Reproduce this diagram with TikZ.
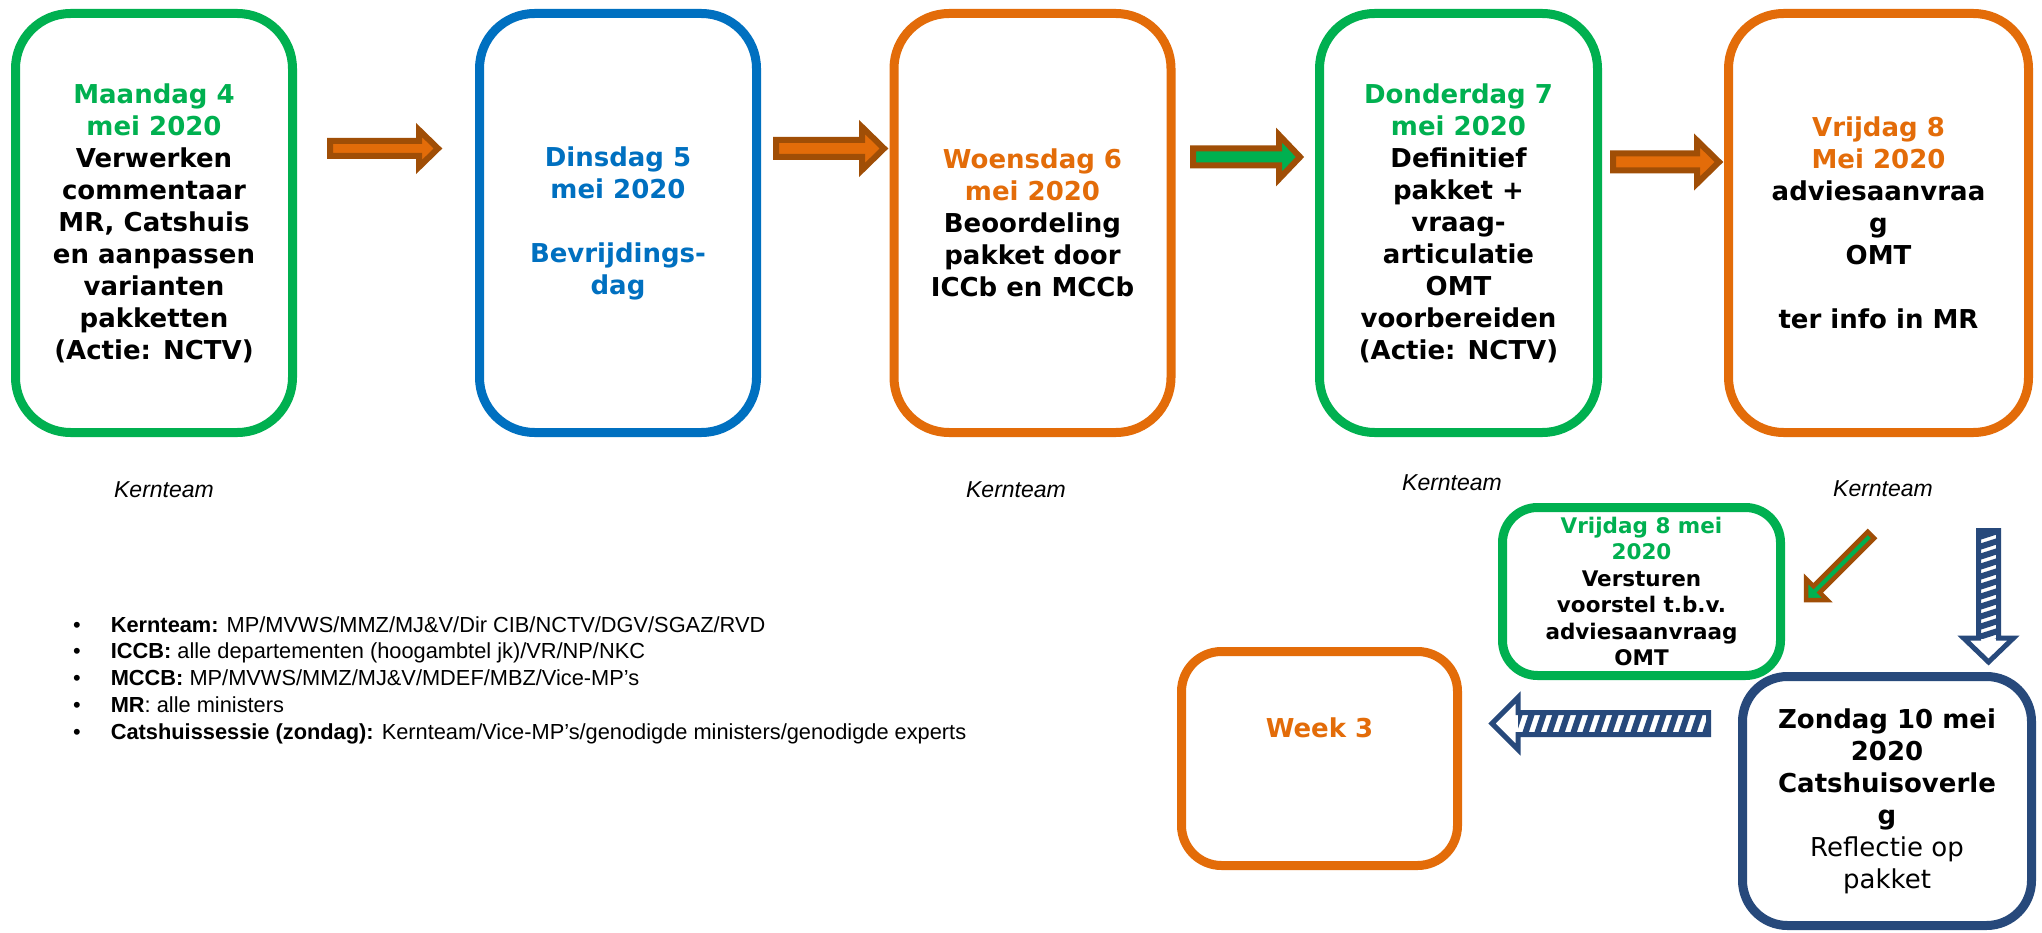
\documentclass[tikz,border=0pt]{standalone}
\usepackage{fontspec}
\setmainfont{DejaVu Sans}
\newfontfamily\arialf{Liberation Sans}
\usetikzlibrary{calc}
\definecolor{grn}{HTML}{00B050}
\definecolor{blu}{HTML}{0070C0}
\definecolor{org}{HTML}{E36C09}
\definecolor{brn}{HTML}{A04E06}
\definecolor{nav}{HTML}{27497B}
\newcommand\blockarr[6]{%
  \path[#1] ($(#2)!#4!90:(#3)$)
    -- ($(#3)!#6!(#2)!#4!-90:(#2)$)
    -- ($(#3)!#6!(#2)!#5!-90:(#2)$)
    -- (#3)
    -- ($(#3)!#6!(#2)!#5!90:(#2)$)
    -- ($(#3)!#6!(#2)!#4!90:(#2)$)
    -- ($(#2)!#4!-90:(#3)$) -- cycle;}
\tikzset{
  day/.style={draw, line width=9pt, rounded corners=55pt, inner sep=0pt, align=center,
    font=\fontsize{26}{32}\selectfont\bfseries},
  smallday/.style={day, rounded corners=35pt, font=\fontsize{21.5}{26.5}\selectfont\bfseries},
  kern/.style={font=\arialf\itshape\fontsize{23}{28}\selectfont, inner sep=0pt},
  orgarrow/.style={draw=brn, fill=org, line width=6pt, line join=miter},
  navstripe/.style={draw=nav, line width=6pt},
}
\begin{document}
\begin{tikzpicture}[x=1pt, y=-1pt]
\useasboundingbox (0,0) rectangle (2042,933);
\fill[white] (0,0) rectangle (2042,933);

% top row boxes
\node[day, draw=grn, minimum width=277pt, minimum height=419pt] (b1) at (154,223)
  {\textcolor{grn}{Maandag 4}\\\textcolor{grn}{mei 2020}\\Verwerken\\commentaar\\MR, Catshuis\\en aanpassen\\varianten\\pakketten\\(Actie: NCTV)};
\node[day, draw=blu, minimum width=277pt, minimum height=419pt] (b2) at (618,223)
  {\textcolor{blu}{Dinsdag 5}\\\textcolor{blu}{mei 2020}\\[32pt]\textcolor{blu}{Bevrijdings-}\\\textcolor{blu}{dag}};
\node[day, draw=org, minimum width=277pt, minimum height=419pt] (b3) at (1032.5,223)
  {\textcolor{org}{Woensdag 6}\\\textcolor{org}{mei 2020}\\Beoordeling\\pakket door\\ICCb en MCCb};
\node[day, draw=grn, minimum width=278pt, minimum height=419pt] (b4) at (1458.5,223)
  {\textcolor{grn}{Donderdag 7}\\\textcolor{grn}{mei 2020}\\Definitief\\pakket +\\vraag-\\articulatie\\OMT\\voorbereiden\\(Actie: NCTV)};
\node[day, draw=org, minimum width=300pt, minimum height=419pt] (b5) at (1878.5,223)
  {\textcolor{org}{Vrijdag 8}\\\textcolor{org}{Mei 2020}\\adviesaanvraa\\g\\OMT\\[32pt]ter info in MR};

% Kernteam labels
\node[kern] (k1) at (164,490) {Kernteam};
\node[kern] (k3) at (1016,490) {Kernteam};
\node[kern] (k4) at (1452,483) {Kernteam};
\node[kern] (k5) at (1883,489) {Kernteam};

% bottom boxes
\node[day, draw=nav, rounded corners=45pt, minimum width=289pt, minimum height=249pt] (b8) at (1887,801)
  {Zondag 10 mei\\2020\\Catshuisoverle\\g\\{\mdseries Reflectie op}\\{\mdseries pakket}};
\node[smallday, draw=grn, minimum width=278pt, minimum height=168pt] (b6) at (1641.5,591.5)
  {\textcolor{grn}{Vrijdag 8 mei}\\\textcolor{grn}{2020}\\Versturen\\voorstel t.b.v.\\adviesaanvraag\\OMT};
\node[day, draw=org, rounded corners=40pt, minimum width=276pt, minimum height=214pt] (b7) at (1319.5,758.5)
  {\smash{\raisebox{21pt}{\textcolor{org}{Week 3}}}};

% legend
\node[anchor=base west, inner sep=0pt, font=\arialf\fontsize{21.8}{26.8}\selectfont] (legend) at (73,632)
  {\begin{tabular}[t]{@{}l@{\hspace{30pt}}l@{}}
   •&\textbf{Kernteam:} MP/MVWS/MMZ/MJ\&V/Dir CIB/NCTV/DGV/SGAZ/RVD\\
   •&\textbf{ICCB:} alle departementen (hoogambtel jk)/VR/NP/NKC\\
   •&\textbf{MCCB:} MP/MVWS/MMZ/MJ\&V/MDEF/MBZ/Vice-MP’s\\
   •&\textbf{MR}: alle ministers\\
   •&\textbf{Catshuissessie (zondag):} Kernteam/Vice-MP’s/genodigde ministers/genodigde experts
  \end{tabular}};

% orange block arrows
\coordinate (a1t) at (330,148.5);  \coordinate (a1h) at (438,148.5);
\coordinate (a2t) at (776,148.5);  \coordinate (a2h) at (884,148.5);
\coordinate (a3t) at (1193,157);   \coordinate (a3h) at (1300,157);
\coordinate (a4t) at (1613,162);   \coordinate (a4h) at (1719,162);
\blockarr{orgarrow}{a1t}{a1h}{7.5pt}{18.5pt}{19pt}
\blockarr{orgarrow}{a2t}{a2h}{8.5pt}{21.5pt}{22pt}
\blockarr{orgarrow, fill=grn}{a3t}{a3h}{8.5pt}{22pt}{21pt}
\blockarr{orgarrow}{a4t}{a4h}{8.5pt}{21.5pt}{22pt}

% diagonal arrow
\coordinate (dgt) at (1871,535); \coordinate (dgh) at (1806,600);
\blockarr{draw=brn, fill=grn, line width=4.5pt, line join=miter}{dgt}{dgh}{4.5pt}{15pt}{15pt}

% hatched down arrow
\coordinate (dnt) at (1988.5,530.5); \coordinate (dnh) at (1988.5,662);
\blockarr{fill=white}{dnt}{dnh}{10pt}{25pt}{24pt}
\begin{scope}
  \clip (1978.5,530.5) rectangle (1998.5,638);
  \foreach \y in {520,530,...,650} \draw[navstripe] (1976,\y+8) -- (2001,\y);
\end{scope}
\blockarr{draw=nav, line width=5pt}{dnt}{dnh}{10pt}{25pt}{24pt}

% hatched left arrow
\coordinate (lft) at (1708.5,723.5); \coordinate (lfh) at (1492,723.5);
\blockarr{fill=white}{lft}{lfh}{11pt}{26pt}{26pt}
\begin{scope}
  \clip (1518,712.5) rectangle (1708.5,734.5);
  \foreach \x in {1500,1512,...,1720} \draw[navstripe] (\x,737) -- (\x+9,710);
\end{scope}
\blockarr{draw=nav, line width=5pt}{lft}{lfh}{11pt}{26pt}{26pt}
\end{tikzpicture}
\end{document}
